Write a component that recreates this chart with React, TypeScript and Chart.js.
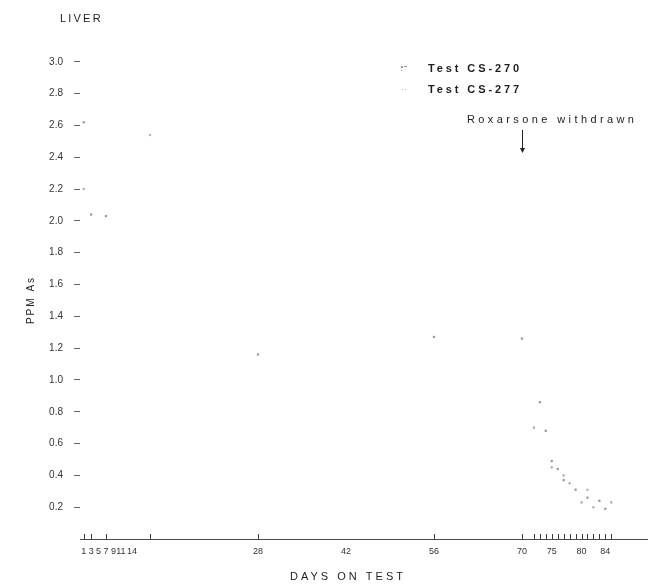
import React, { useEffect, useRef } from 'react';
import { Chart, registerables, LinearScale } from 'chart.js';

Chart.register(...registerables);

// ---- data (days on test, ppm As in liver) ----
const CS270_DAYS = [1, 3, 7, 28, 56, 70, 73, 74, 75, 76, 77, 79, 81, 83, 84];
const CS270_PPM = [2.62, 2.04, 2.03, 1.16, 1.27, 1.26, 0.86, 0.68, 0.49, 0.44, 0.37, 0.31, 0.26, 0.24, 0.19];
const CS277_DAYS = [1, 16, 72, 75, 77, 78, 80, 81, 82, 85];
const CS277_PPM = [2.2, 2.54, 0.7, 0.45, 0.4, 0.35, 0.23, 0.31, 0.2, 0.23];
const SERIES_LABELS = ['Test CS-270', 'Test CS-277'];
const X_TICKS = [1, 3, 5, 7, 9, 11, 14, 28, 42, 56, 70, 75, 80, 84];
const Y_TICKS = [0.2, 0.4, 0.6, 0.8, 1.0, 1.2, 1.4, 1.6, 1.8, 2.0, 2.2, 2.4, 2.6, 2.8, 3.0];
const WITHDRAWN_DAY = 70;
const WITHDRAWN_LABEL = 'Roxarsone withdrawn';
const TITLE = 'LIVER';
const Y_TITLE = 'PPM As';
const X_TITLE = 'DAYS ON TEST';

// uneven day axis of the original figure: knots (days) and fraction of axis width
const X_KNOT_DAYS = [0, 14, 28, 70, 91];
const X_KNOT_FRACS = [0, 0.0917, 0.3139, 0.7795, 1];

function interp(v: number, xs: number[], ys: number[]) {
  if (v <= xs[0]) return ys[0] + (v - xs[0]) * (ys[1] - ys[0]) / (xs[1] - xs[0]);
  for (let i = 1; i < xs.length; i++) {
    if (v <= xs[i]) {
      return ys[i - 1] + (v - xs[i - 1]) * (ys[i] - ys[i - 1]) / (xs[i] - xs[i - 1]);
    }
  }
  const n = xs.length - 1;
  return ys[n] + (v - xs[n]) * (ys[n] - ys[n - 1]) / (xs[n] - xs[n - 1]);
}

class BrokenLinearScale extends LinearScale {
  static id = 'brokenLinear';
  static defaults = LinearScale.defaults;
  getPixelForValue(value: any) {
    if (value === null || value === undefined || isNaN(value)) return NaN;
    return this.getPixelForDecimal(interp(value, X_KNOT_DAYS, X_KNOT_FRACS));
  }
  getValueForPixel(pixel: number) {
    return interp(this.getDecimalForPixel(pixel), X_KNOT_FRACS, X_KNOT_DAYS);
  }
}
Chart.register(BrokenLinearScale as any);

const C270 = '#9a9a9a';
const C277 = '#b5b5b5';
const TEXT = '#1e1e1e';

function spacedText(ctx: CanvasRenderingContext2D, text: string, x: number, y: number, font: string, spacing: number, align: CanvasTextAlign) {
  ctx.font = font;
  (ctx as any).letterSpacing = spacing + 'px';
  ctx.textAlign = align;
  ctx.textBaseline = 'middle';
  ctx.fillStyle = TEXT;
  ctx.fillText(text, x, y);
  (ctx as any).letterSpacing = '0px';
}

const decorPlugin = {
  id: 'decor',
  afterDraw(chart: any) {
    const ctx: CanvasRenderingContext2D = chart.ctx;
    const xs = chart.scales.x;
    const area = chart.chartArea;
    ctx.save();
    // sampling-day ticks rising from the baseline
    const days = Array.from(new Set([...CS270_DAYS, ...CS277_DAYS]));
    ctx.strokeStyle = '#3a3a3a';
    ctx.lineWidth = 1;
    days.forEach((d) => {
      const x = Math.round(xs.getPixelForValue(d)) + 0.5;
      ctx.beginPath();
      ctx.moveTo(x, area.bottom);
      ctx.lineTo(x, area.bottom - 5);
      ctx.stroke();
    });

    // titles
    spacedText(ctx, TITLE, 60, 19, '11px "Liberation Sans", Arial, sans-serif', 2.2, 'left');
    spacedText(ctx, X_TITLE, 348, 577, '11px "Liberation Sans", Arial, sans-serif', 3, 'center');
    ctx.save();
    ctx.translate(31, 300);
    ctx.rotate(-Math.PI / 2);
    spacedText(ctx, Y_TITLE, 0, 0, '10px "Liberation Sans", Arial, sans-serif', 2, 'center');
    ctx.restore();

    // legend
    ctx.fillStyle = C270;
    ctx.fillRect(401, 66, 2, 2);
    ctx.fillRect(401, 70, 1, 1);
    ctx.fillRect(404, 66, 3, 1);
    ctx.fillStyle = C277;
    ctx.fillRect(402, 89, 1, 1);
    ctx.fillRect(405, 89, 1, 1);
    spacedText(ctx, SERIES_LABELS[0], 428, 69, 'bold 11px "Liberation Sans", Arial, sans-serif', 2.9, 'left');
    spacedText(ctx, SERIES_LABELS[1], 428, 90, 'bold 11px "Liberation Sans", Arial, sans-serif', 2.9, 'left');

    // annotation
    spacedText(ctx, WITHDRAWN_LABEL, 467, 120, '11px "Liberation Sans", Arial, sans-serif', 3.4, 'left');
    const ax = Math.round(xs.getPixelForValue(WITHDRAWN_DAY)) + 0.5;
    ctx.strokeStyle = '#222';
    ctx.beginPath();
    ctx.moveTo(ax, 130);
    ctx.lineTo(ax, 149);
    ctx.stroke();
    ctx.fillStyle = '#222';
    ctx.beginPath();
    ctx.moveTo(ax - 2.5, 148);
    ctx.lineTo(ax + 2.5, 148);
    ctx.lineTo(ax, 153);
    ctx.closePath();
    ctx.fill();
    ctx.restore();
  },
};

export default function App() {
  const ref = useRef<HTMLCanvasElement>(null);
  useEffect(() => {
    if (!ref.current) return;
    const chart = new Chart(ref.current, {
      type: 'scatter',
      data: {
        datasets: [
          {
            label: SERIES_LABELS[0],
            data: CS270_DAYS.map((d, i) => ({ x: d, y: CS270_PPM[i] })),
            pointStyle: 'rect',
            pointRadius: 1.6,
            backgroundColor: C270,
            borderColor: C270,
            borderWidth: 0,
            showLine: false,
          },
          {
            label: SERIES_LABELS[1],
            data: CS277_DAYS.map((d, i) => ({ x: d, y: CS277_PPM[i] })),
            pointStyle: 'circle',
            pointRadius: 1.3,
            backgroundColor: C277,
            borderColor: C277,
            borderWidth: 0,
            showLine: false,
          },
        ],
      },
      options: {
        responsive: false,
        animation: false,
        devicePixelRatio: 1,
        layout: { padding: { top: 30, right: 6, left: 0, bottom: 0 } },
        plugins: { legend: { display: false }, tooltip: { enabled: false }, title: { display: false } },
        scales: {
          x: {
            type: 'brokenLinear' as any,
            min: 0,
            max: 91,
            afterFit: (s: any) => { s.height = 46; },
            afterBuildTicks: (s: any) => { s.ticks = X_TICKS.map((v) => ({ value: v })); },
            grid: { display: false, drawTicks: false },
            border: { display: true, color: '#4a4a4a', width: 1 },
            ticks: {
              autoSkip: false,
              maxRotation: 0,
              minRotation: 0,
              padding: 7,
              color: '#333',
              font: { family: '"Liberation Sans", Arial, sans-serif', size: 9 },
              callback: (v: any) => String(v),
            },
          },
          y: {
            min: 0,
            max: 3.2,
            afterFit: (s: any) => { s.width = 80; },
            afterBuildTicks: (s: any) => { s.ticks = Y_TICKS.map((v) => ({ value: v })); },
            grid: { drawOnChartArea: false, drawTicks: true, tickLength: 6, color: '#666' },
            border: { display: false },
            ticks: {
              padding: 11,
              color: '#333',
              font: { family: '"Liberation Sans", Arial, sans-serif', size: 10 },
              callback: (v: any) => Number(v).toFixed(1),
            },
          },
        },
      },
      plugins: [decorPlugin],
    } as any);
    return () => chart.destroy();
  }, []);
  return (
    <div style={{ position: 'absolute', left: 0, top: 0, width: 653, height: 585, background: '#fff' }}>
      <canvas ref={ref} width={653} height={585} style={{ display: 'block', width: 653, height: 585 }} />
    </div>
  );
}
